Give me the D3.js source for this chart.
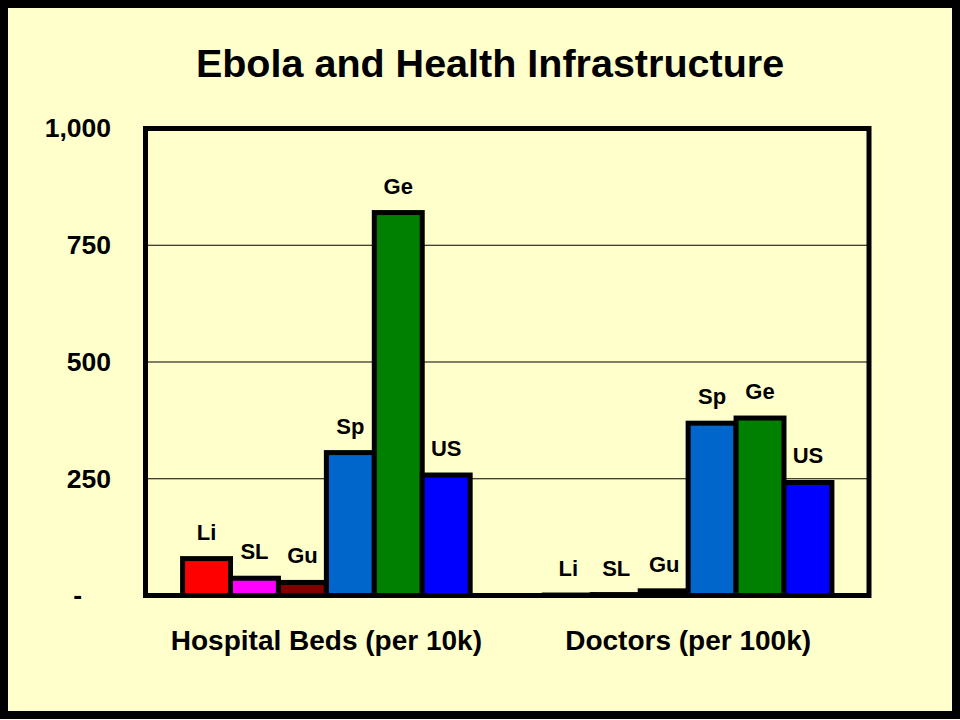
<!DOCTYPE html>
<html>
<head>
<meta charset="utf-8">
<script src="https://cdn.jsdelivr.net/npm/d3@7"></script>
<style>
  html, body { margin: 0; padding: 0; background: #FFFFCC; }
  svg { display: block; }
  text { font-family: "Liberation Sans", Arial, sans-serif; font-weight: bold; fill: #000; }
</style>
</head>
<body>
<svg id="chart" width="960" height="720"></svg>
<script>
// ---- data ----
const groups = ["Hospital Beds (per 10k)", "Doctors (per 100k)"];
const countries = ["Li", "SL", "Gu", "Sp", "Ge", "US"];
const hospitalBeds = [79, 37, 28, 306, 820, 258];
const doctors = [1, 2, 10, 369, 380, 242];
const countryColors = ["#FF0000", "#FF00FF", "#800000", "#0066CC", "#008000", "#0000FF"];
const yTicks = [0, 250, 500, 750, 1000];
const titleText = "Ebola and Health Infrastructure";

const seriesByGroup = [hospitalBeds, doctors];

// ---- layout ----
const W = 960, H = 720;
const plot = { left: 145.5, right: 869, top: 128.5, bottom: 595.5 };

const svg = d3.select("#chart");

svg.append("rect").attr("x", 0).attr("y", 0).attr("width", W).attr("height", H).attr("fill", "#FFFFCC");

const y = d3.scaleLinear().domain([0, 1000]).range([plot.bottom, plot.top]);
const x0 = d3.scaleBand().domain(groups).range([plot.left, plot.right])
  .paddingInner(0.205).paddingOuter(0.1025);
const x1 = d3.scaleBand().domain(countries).range([0, x0.bandwidth()]).padding(0);
const color = d3.scaleOrdinal().domain(countries).range(countryColors);

// gridlines
svg.append("g")
  .selectAll("line")
  .data(yTicks.filter(t => t > 0 && t < 1000))
  .join("line")
  .attr("x1", plot.left).attr("x2", plot.right)
  .attr("y1", d => y(d)).attr("y2", d => y(d))
  .attr("stroke", "#000").attr("stroke-width", 1.2);

// y axis labels
const yAxis = d3.axisLeft(y).tickValues(yTicks)
  .tickFormat(d => d === 0 ? "-" : d3.format(",")(d))
  .tickSize(0).tickPadding(0);
const yg = svg.append("g").attr("transform", `translate(111,0)`).call(yAxis);
yg.select(".domain").remove();
yg.selectAll("text")
  .style("font-family", '"Liberation Sans", Arial, sans-serif')
  .style("font-weight", "bold")
  .style("font-size", "26.5px")
  .attr("fill", "#000")
  .attr("x", 0)
  .attr("dx", d => d === 0 ? -29 : 0);

// bars
const data = [];
groups.forEach((g, gi) => {
  countries.forEach((c, ci) => {
    data.push({ group: g, country: c, value: seriesByGroup[gi][ci] });
  });
});

const barG = svg.append("g");
barG.selectAll("rect")
  .data(data)
  .join("rect")
  .attr("x", d => x0(d.group) + x1(d.country))
  .attr("width", x1.bandwidth())
  .attr("y", d => y(d.value))
  .attr("height", d => y(0) - y(d.value))
  .attr("fill", d => color(d.country))
  .attr("stroke", "#000")
  .attr("stroke-width", 5);

// bar labels
svg.append("g")
  .selectAll("text")
  .data(data)
  .join("text")
  .attr("x", d => x0(d.group) + x1(d.country) + x1.bandwidth() / 2)
  .attr("y", d => y(d.value) - 19)
  .attr("text-anchor", "middle")
  .style("font-size", "22px")
  .text(d => d.country);

// plot frame
svg.append("rect")
  .attr("x", plot.left).attr("y", plot.top)
  .attr("width", plot.right - plot.left).attr("height", plot.bottom - plot.top)
  .attr("fill", "none").attr("stroke", "#000").attr("stroke-width", 5);

// x axis labels
const xAxis = d3.axisBottom(x0).tickSize(0).tickPadding(0);
const xg = svg.append("g").attr("transform", `translate(0,${plot.bottom})`).call(xAxis);
xg.select(".domain").remove();
xg.selectAll("text")
  .style("font-family", '"Liberation Sans", Arial, sans-serif')
  .style("font-weight", "bold")
  .style("font-size", "28px")
  .attr("fill", "#000")
  .attr("y", 54).attr("dy", 0);

// title
svg.append("text")
  .attr("x", 490).attr("y", 77)
  .attr("text-anchor", "middle")
  .style("font-size", "39.5px")
  .text(titleText);

// outer border
svg.append("rect")
  .attr("x", 4).attr("y", 4).attr("width", 952).attr("height", 711)
  .attr("fill", "none").attr("stroke", "#000").attr("stroke-width", 8);
</script>
</body>
</html>
